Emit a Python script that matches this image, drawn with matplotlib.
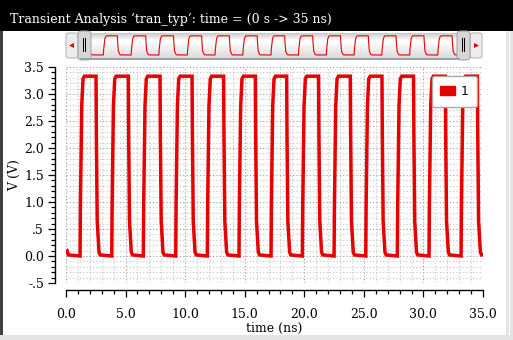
import matplotlib

matplotlib.use("Agg")
import matplotlib.pyplot as plt
import numpy as np
from matplotlib.patches import FancyBboxPatch, Patch, Polygon, Rectangle
from matplotlib.ticker import FixedLocator, MultipleLocator

W, H, DPI = 513, 340, 100
RED = "#e60000"
SERIF = "DejaVu Serif"

# clock edges (ns)
rise_ns = [1.20, 3.86, 6.51, 9.23, 11.88, 14.54, 17.23, 19.86, 22.52, 25.18, 27.83, 30.49, 33.18]
fall_ns = [2.54, 5.25, 7.91, 10.60, 13.25, 15.91, 18.54, 21.22, 23.88, 26.54, 29.19, 31.86, 34.55]
# sampled shape of one edge: offset from edge time (ns) and voltage (V)
rise_dt = [-0.02, 0.01, 0.12, 0.23, 0.35]
rise_v = [0.00, 0.93, 2.78, 3.28, 3.33]
fall_dt = [-0.02, 0.01, 0.08, 0.23, 0.33]
fall_v = [3.33, 2.23, 0.65, 0.07, 0.02]
start_t = [0.0, 0.1, 0.2]
start_v = [0.07, 0.09, 0.02]
end_t = [35.0]
end_v = [0.02]

y_ticks = [-0.5, 0.0, 0.5, 1.0, 1.5, 2.0, 2.5, 3.0, 3.5]
y_labels = ["-.5", "0.0", ".5", "1.0", "1.5", "2.0", "2.5", "3.0", "3.5"]
x_ticks = [0, 5, 10, 15, 20, 25, 30, 35]
x_labels = ["0.0", "5.0", "10.0", "15.0", "20.0", "25.0", "30.0", "35.0"]


def px(x, y_top, w, h):
    """pixel box (from top-left) -> figure fraction rect"""
    return (x / W, (H - y_top - h) / H, w / W, h / H)


def fig_rect(fig, x, y_top, w, h, **kw):
    l, b, ww, hh = px(x, y_top, w, h)
    fig.add_artist(Rectangle((l, b), ww, hh, transform=fig.transFigure, **kw))


def build_trace():
    t = list(start_t)
    v = list(start_v)
    for r, f in zip(rise_ns, fall_ns):
        t += [r + d for d in rise_dt]
        v += rise_v
        t += [f + d for d in fall_dt]
        v += fall_v
    t += end_t
    v += end_v
    return np.array(t), np.array(v)


def main():
    t, v = build_trace()
    fig = plt.figure(figsize=(W / DPI, H / DPI), dpi=DPI, facecolor="white")

    # title bar
    fig_rect(fig, 0, 0, W, 31, facecolor="black", edgecolor="none")
    fig.text(10 / W, 1 - 19 / H, "Transient Analysis \u2018tran_typ\u2019: time = (0 s -> 35 ns)",
             color="white", family=SERIF, fontsize=9, va="center", ha="left")

    # window frame
    fig_rect(fig, 0, 31, 3, H - 31, facecolor="#404040", edgecolor="none")
    fig_rect(fig, 506, 31, 7, H - 31, facecolor="#e4e4e4", edgecolor="none")
    fig_rect(fig, 509, 31, 1, H - 31, facecolor="white", edgecolor="none")
    fig_rect(fig, 0, 335, W, 5, facecolor="#e4e4e4", edgecolor="none")

    # scrollbar: buttons and handles
    for x0, w in [(66, 12), (470, 12)]:
        l, b, ww, hh = px(x0, 33, w, 25)
        fig.add_artist(FancyBboxPatch((l, b), ww, hh, boxstyle="round,pad=0,rounding_size=0.006",
                                      transform=fig.transFigure, facecolor="#ececec", edgecolor="#b0b0b0", lw=0.7))
    fig.add_artist(Polygon([(69 / W, 1 - 45.5 / H), (74 / W, 1 - 43 / H), (74 / W, 1 - 48 / H)],
                           closed=True, transform=fig.transFigure, facecolor=RED, edgecolor="none"))
    fig.add_artist(Polygon([(479 / W, 1 - 45.5 / H), (474 / W, 1 - 43 / H), (474 / W, 1 - 48 / H)],
                           closed=True, transform=fig.transFigure, facecolor=RED, edgecolor="none"))
    for x0 in (78, 457):
        l, b, ww, hh = px(x0, 31, 13, 29)
        fig.add_artist(FancyBboxPatch((l, b), ww, hh, boxstyle="round,pad=0,rounding_size=0.008",
                                      transform=fig.transFigure, facecolor="#d6d6d6", edgecolor="#a0a0a0", lw=0.7))
        fig_rect(fig, x0 + 5, 38, 1, 14, facecolor="black", edgecolor="none")
        fig_rect(fig, x0 + 7, 38, 1, 14, facecolor="black", edgecolor="none")
    fig_rect(fig, 80, 58, 380, 2, facecolor="#9aa0a6", edgecolor="none")

    # scrollbar track with overview trace
    ax_sb = fig.add_axes(px(91, 33, 366, 25))
    grad = np.concatenate([np.linspace(0.80, 1.0, 8), np.linspace(1.0, 0.86, 17)])[:, None]
    ax_sb.imshow(np.repeat(grad, 2, axis=1), cmap="gray", vmin=0, vmax=1, aspect="auto",
                 extent=(0, 35, -0.52, 3.82), zorder=0)
    ax_sb.plot(t, v, color=RED, lw=0.8, zorder=2)
    ax_sb.set_xlim(0, 35)
    ax_sb.set_ylim(-0.52, 3.82)
    ax_sb.axis("off")

    # main plot
    ax = fig.add_axes(px(66, 67, 417, 216))
    ax.set_xlim(0, 35)
    ax.set_ylim(-0.5, 3.5)
    ax.plot(t, v, color=RED, lw=2.5, solid_joinstyle="miter", zorder=3)

    ax.spines["top"].set_visible(False)
    ax.spines["right"].set_visible(False)
    ax.spines["left"].set_position(("outward", 11 * 72 / DPI))
    ax.spines["bottom"].set_position(("outward", 7 * 72 / DPI))
    for s in ("left", "bottom"):
        ax.spines[s].set_linewidth(1.0)

    ax.xaxis.set_major_locator(FixedLocator(x_ticks))
    ax.set_xticklabels(x_labels)
    ax.yaxis.set_major_locator(FixedLocator(y_ticks))
    ax.set_yticklabels(y_labels)
    ax.xaxis.set_minor_locator(MultipleLocator(1))
    ax.yaxis.set_minor_locator(MultipleLocator(0.1))
    ax.tick_params(axis="both", which="major", length=5, width=0.9, labelsize=9)
    ax.tick_params(axis="both", which="minor", length=3, width=0.9)
    ax.tick_params(axis="x", which="major", pad=8)
    ax.tick_params(axis="y", which="major", pad=3)
    for lab in ax.get_xticklabels() + ax.get_yticklabels():
        lab.set_family(SERIF)

    ax.grid(True, which="minor", color="#c4c4c4", lw=0.8, ls=(0, (1, 2)))
    ax.grid(True, which="major", color="#9a9a9a", lw=0.8, ls=(0, (1, 2)))
    ax.set_axisbelow(True)

    ax.set_xlabel("time (ns)", family=SERIF, fontsize=9)
    ax.xaxis.set_label_coords(0.5, (283 - 328) / 216)
    ax.xaxis.label.set_va("center")
    ax.set_ylabel("V (V)", family=SERIF, fontsize=9)
    ax.yaxis.set_label_coords((15 - 66) / 417, 0.5)
    ax.yaxis.label.set_va("center")

    leg = ax.legend(handles=[Patch(facecolor=RED, edgecolor=RED, label="1")], loc="upper right",
                    bbox_to_anchor=((477 - 66) / 417, (283 - 76) / 216), borderaxespad=0,
                    fancybox=True, framealpha=1, edgecolor="#a8a8a8", fontsize=9,
                    handlelength=1.2, handleheight=0.8, handletextpad=0.4, borderpad=0.7)
    leg.get_frame().set_linewidth(1.0)
    leg.set_zorder(5)

    fig.savefig("out.png", dpi=DPI)


if __name__ == "__main__":
    main()
